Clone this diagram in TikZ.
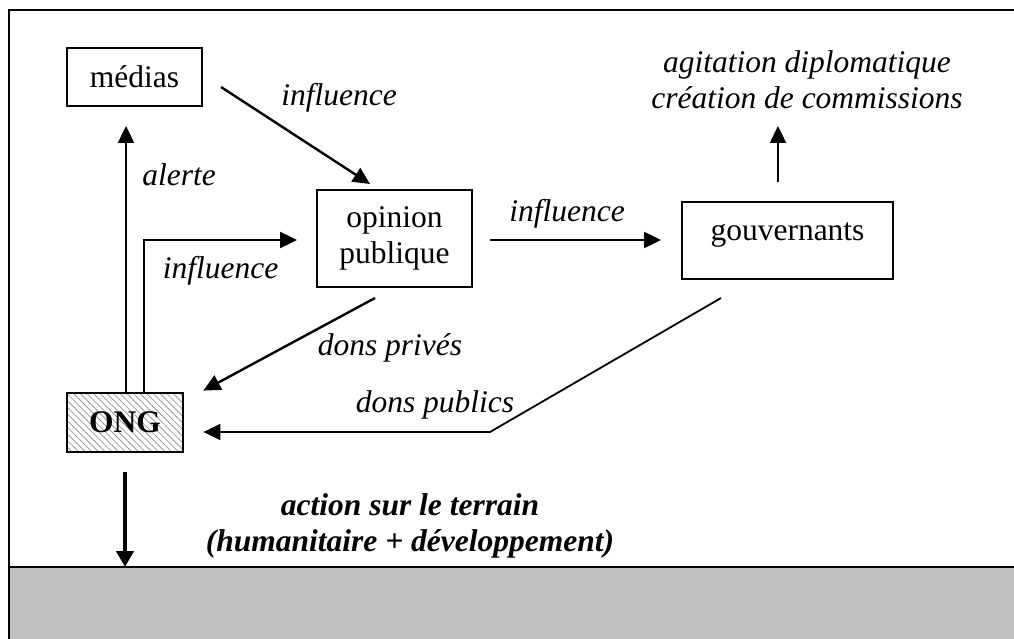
\documentclass[tikz,border=0pt]{standalone}
\usepackage{fontspec}
\setmainfont{Liberation Serif}
\usetikzlibrary{arrows.meta,patterns.meta}
\newcommand{\diagfont}{\fontsize{31.5}{36}\selectfont}
\definecolor{sol}{RGB}{192,192,192}

\begin{document}
\begin{tikzpicture}[x=1pt,y=-1pt,
	every node/.style={font=\diagfont},
	box/.style={draw,line width=2pt,inner sep=0pt},
	lab/.style={font=\diagfont\itshape},
	flow/.style={line width=2.4pt,-{Triangle[length=17pt,width=16pt]}}]
	\useasboundingbox (0,0) rectangle (1014,639);
	\clip (0,0) rectangle (1014,639);
	% cadre et terrain
	\fill[sol] (9,567) rectangle (1030,650);
	\draw[line width=2.4pt] (9,650) -- (9,10) -- (1030,10);
	\draw[line width=2.4pt] (9,567) -- (1030,567);
	% acteurs
	\node[box,minimum width=135pt,minimum height=58pt] (medias) at (134.5,77) {médias};
	\node[box,minimum width=155pt,minimum height=97pt,align=center] (opinion) at (394.5,238.5) {opinion\\publique};
	\node[box,minimum width=211pt,minimum height=77pt,text depth=17pt] (gouv) at (787.5,240.5) {gouvernants};
	\node[box,minimum width=116pt,minimum height=59pt,font=\diagfont\bfseries,
		pattern={Lines[angle=-45,distance=4.7pt,line width=0.8pt]},pattern color=gray!80] (ong) at (125,422.5) {ONG};
	\node[lab,align=center] (effets) at (807,80) {agitation diplomatique\\création de commissions};
	\node[font=\diagfont\bfseries\itshape,align=center] (terrain) at (410,526) {action sur le terrain\\(humanitaire + développement)};
	% etiquettes
	\node[lab] (l1) at (339,98) {influence};
	\node[lab] (l2) at (179,175) {alerte};
	\node[lab] (l3) at (220.5,271) {influence};
	\node[lab] (l4) at (567,213.5) {influence};
	\node[lab] (l5) at (390,348) {dons privés};
	\node[lab] (l6) at (435,405) {dons publics};
	% fleches
	\coordinate (coude) at (490,432);
	\coordinate (terre) at (125,567);
	\draw[flow,shorten >=19pt] ([xshift=1pt]ong.north) -- ([xshift=-8.5pt]medias.south);
	\draw[flow] ([xshift=19pt]ong.north) |- ([xshift=-19pt,yshift=-1.5pt]opinion.west);
	\draw[flow] ([xshift=18pt,yshift=-10pt]medias.east) -- ([xshift=-24.5pt,yshift=5pt]opinion.north);
	\draw[flow,shorten <=17pt,shorten >=20pt] ([yshift=-1.5pt]opinion.east) -- ([yshift=-1.5pt]opinion.east -| gouv.west);
	\draw[flow,shorten <=19pt] ([xshift=-9.5pt]gouv.north) -- ([xshift=-9.5pt,yshift=75pt]gouv.north);
	\draw[flow] ([xshift=-19.5pt,yshift=-10pt]opinion.south) -- ([xshift=20pt,yshift=2pt]ong.north east);
	\draw[flow,line width=1.8pt] ([xshift=-66.5pt,yshift=-18pt]gouv.south) -- (coude) -- ([xshift=20pt,yshift=-9.5pt]ong.east);
	\draw[line width=4.5pt,-{Triangle[length=16pt,width=17pt]}] ([yshift=-20pt]ong.south) -- (terre);
\end{tikzpicture}
\end{document}
